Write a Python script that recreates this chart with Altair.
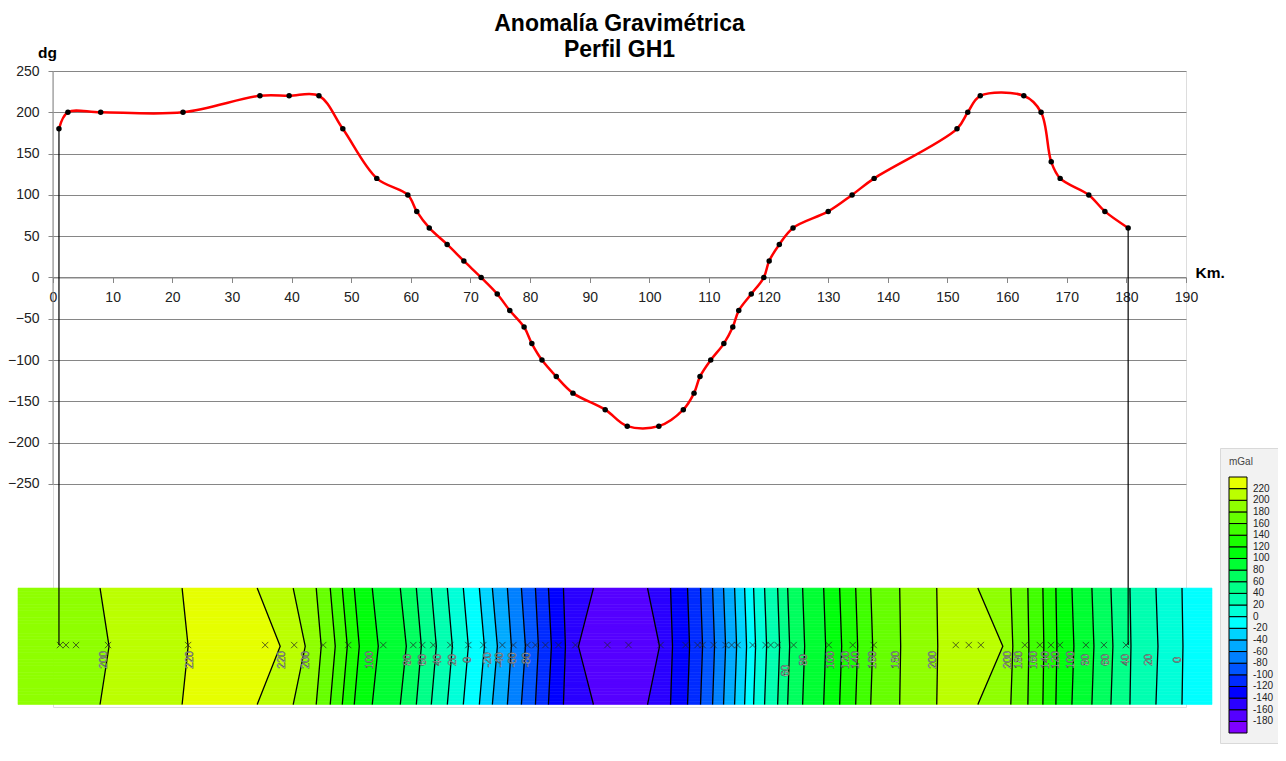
import altair as alt
import pandas as pd

# ---------------- profile (km, mGal) ----------------
prof_km = [1.0, 2.5, 8.0, 21.8, 34.7, 39.6, 44.6, 48.6, 54.3, 59.5, 61.0, 63.1, 66.1, 68.9,
           71.8, 74.5, 76.6, 79.0, 80.3, 82.0, 84.4, 87.2, 92.6, 96.3, 101.6, 105.7, 107.5,
           108.5, 110.3, 112.5, 114.0, 115.0, 117.1, 119.2, 120.1, 121.8, 124.1, 130.0, 134.0,
           137.7, 151.6, 153.4, 155.5, 162.8, 165.7, 167.4, 168.9, 173.7, 176.4, 180.3]
prof_val = [180, 200, 200, 200, 220, 220, 220, 180, 120, 100, 80, 60, 40, 20,
            0, -20, -40, -60, -80, -100, -120, -140, -160, -180, -180, -160, -140,
            -120, -100, -80, -60, -40, -20, 0, 20, 40, 60, 80, 100,
            120, 180, 200, 220, 220, 200, 140, 120, 100, 80, 60]

# ---------------- contour strip ----------------
line_level = [200, 220, 220, 200, 180, 160, 140, 120, 100, 80, 60, 40, 20, 0, -20, -40, -60, -80,
              -100, -120, -140, -160, -160, -140, -120, -100, -80, -60, -40, -20, 0, 20, 40, 60,
              80, 100, 120, 140, 160, 180, 200, 200, 180, 160, 140, 120, 100, 80, 60, 40, 20, 0]
line_km_top = [7.89, 21.65, 34.24, 40.28, 44.14, 46.49, 48.51, 50.52, 53.54, 58.24, 60.93, 63.44,
               66.13, 68.81, 71.50, 73.68, 76.20, 78.55, 80.90, 83.08, 85.60, 90.63, 99.70, 103.56,
               106.41, 108.59, 110.61, 112.45, 114.30, 115.98, 117.49, 119.33, 121.52, 123.20,
               125.71, 129.24, 131.92, 134.61, 137.13, 141.99, 148.20, 155.09, 160.62, 163.48,
               166.00, 168.18, 170.87, 174.22, 177.41, 180.60, 184.96, 189.33]
line_km_mid = [9.40, 22.66, 38.10, 42.30, 44.98, 47.33, 49.35, 51.36, 54.55, 59.25, 61.77, 64.28,
               66.97, 69.65, 72.34, 74.52, 76.87, 79.22, 81.40, 83.58, 85.93, 88.12, 101.71, 103.89,
               106.75, 108.93, 110.94, 112.79, 114.64, 116.31, 117.82, 119.67, 121.85, 123.53,
               126.05, 129.57, 132.26, 134.94, 137.46, 142.15, 148.37, 159.28, 160.96, 163.65,
               166.16, 168.35, 171.20, 174.56, 177.74, 180.77, 185.30, 189.49]
band_val = [190, 210, 230, 210, 190, 170, 150, 130, 110, 90, 70, 50, 30, 10, -10, -30, -50, -70,
            -90, -110, -130, -150, -170, -150, -130, -110, -90, -70, -50, -30, -10, 10, 30, 50,
            70, 90, 110, 130, 150, 170, 190, 210, 190, 170, 150, 130, 110, 90, 70, 50, 30, 10, -10]
strip_km = [-5.87, 194.36]
strip_val = [-376, -517]
marker_val = -445

marker_km = [1.17, 2.18, 3.86, 9.23, 22.66, 35.58, 40.45, 45.32, 49.51, 55.39, 60.42, 61.93,
             63.78, 66.63, 69.65, 72.17, 75.36, 77.21, 79.56, 80.90, 82.58, 84.76, 87.61, 92.98,
             96.51, 101.88, 106.08, 108.09, 108.93, 110.78, 112.79, 113.80, 114.80, 117.32,
             119.50, 120.34, 121.52, 124.20, 130.08, 134.11, 137.63, 151.39, 153.57, 155.59,
             162.97, 165.49, 167.34, 168.85, 173.21, 176.23, 179.93]

label_km = [8.56, 22.99, 38.44, 42.46, 53.21, 59.58, 62.10, 64.62, 67.14, 69.65, 73.01, 75.03,
            77.21, 79.56, 122.86, 125.88, 130.41, 132.93, 134.61, 137.46, 141.32, 147.53, 160.12,
            161.97, 164.48, 166.50, 168.18, 170.70, 173.21, 176.57, 179.93, 183.79, 188.65]
label_txt = ["200", "220", "220", "200", "100", "80", "60", "40", "20", "0", "-20", "-40",
             "-60", "-80", "60", "80", "100", "120", "140", "160", "180", "200", "200",
             "180", "160", "140", "120", "100", "80", "60", "40", "20", "0"]
label_val = [-463] * 14 + [-476] + [-463] * 18

# ---------------- colour classes ----------------
levels = list(range(-180, 221, 20))
colors = ["#7f00ff", "#5500ff", "#2a00ff", "#0000ff", "#002bff", "#0055ff", "#0080ff",
          "#00aaff", "#00d4ff", "#00ffff", "#00ffd8", "#00ffb0", "#00ff88", "#00ff5e",
          "#00ff33", "#00ff0c", "#1aff00", "#40ff00", "#66ff00", "#8fff00", "#bbff00", "#e6ff00"]

# ---------------- build tables ----------------
n_rows = 36
s_top, s_bot = strip_val
s_mid = (s_top + s_bot) / 2
half = (s_top - s_bot) / 2
hrow = (s_top - s_bot) / n_rows
cells = []
for i in range(n_rows):
    y1 = s_top - i * hrow
    y2 = y1 - hrow
    d = abs((y1 + y2) / 2 - s_mid) / half
    xs = [strip_km[0]] + [m + (t - m) * d for t, m in zip(line_km_top, line_km_mid)] + [strip_km[1]]
    for k, v in enumerate(band_val):
        cells.append({"km": xs[k], "km2": xs[k + 1], "val": y1, "val2": y2, "v": v})
cells = pd.DataFrame(cells)

cl = []
for j, (t, m) in enumerate(zip(line_km_top, line_km_mid)):
    for o, (x, y) in enumerate([(t, s_top), (m, s_mid), (t, s_bot)]):
        cl.append({"km": x, "val": y, "id": j, "o": o, "lev": line_level[j]})
cl = pd.DataFrame(cl)

prof = pd.DataFrame({"km": prof_km, "val": prof_val})
marks = pd.DataFrame({"km": marker_km, "val": [marker_val] * len(marker_km)})
labs = pd.DataFrame({"km": label_km, "val": label_val, "t": label_txt})
conn = pd.DataFrame({"km": [prof_km[0], prof_km[-1]], "val": [prof_val[0], prof_val[-1]],
                     "val2": [marker_val, marker_val]})
yaxis_line = pd.DataFrame({"km": [0], "val": [-250], "val2": [250]})

GRID = "#868686"
FONT = "Liberation Sans"
W, H = 1133, 636
xscale = alt.Scale(domain=[0, 190], nice=False, zero=False)
yscale = alt.Scale(domain=[-520, 250], nice=False, zero=False)
y0 = H * 250 / 770

xaxis = alt.Axis(values=list(range(0, 191, 10)), grid=False, domainColor=GRID, tickColor=GRID,
                 tickSize=5, labelFontSize=14, labelFont=FONT, labelColor="#222", labelPadding=8,
                 labelFlush=False, offset=-(H - y0), title="Km.", titleFont=FONT,
                 titleFontSize=15.5, titleFontWeight="bold", titleColor="black", titleAlign="left",
                 titleBaseline="middle", titleX=1142, titleY=-5)
yaxis = alt.Axis(values=list(range(-250, 251, 50)), grid=True, gridColor=GRID, gridWidth=1,
                 domain=False, tickColor=GRID, tickSize=5, labelFontSize=14, labelFont=FONT,
                 labelColor="#222", labelPadding=9, title="dg", titleAngle=0, titleX=-6,
                 titleY=-19, titleAlign="center", titleBaseline="middle", titleFont=FONT,
                 titleFontSize=15.5, titleFontWeight="bold", titleColor="black")


def X(f="km"):
    return alt.X(f"{f}:Q", scale=xscale, axis=xaxis)


def Y(f="val"):
    return alt.Y(f"{f}:Q", scale=yscale, axis=yaxis)


cscale = alt.Scale(type="threshold", domain=levels, range=colors)

strip = alt.Chart(cells).mark_rect(strokeWidth=0.6).encode(
    x=X(), x2="km2", y=Y(), y2="val2",
    color=alt.Color("v:Q", scale=cscale, legend=alt.Legend(
        title="mGal", orient="none", legendX=1167, legendY=377, direction="vertical",
        type="gradient", gradientLength=256, gradientThickness=18, gradientStrokeColor="black",
        gradientStrokeWidth=1, labelFontSize=10, labelFont=FONT, labelColor="#222",
        labelOverlap=False, labelOffset=6, titleFontSize=10, titleFont=FONT,
        titleFontWeight="normal", titleColor="#444", titlePadding=10, fillColor="#f2f2f2",
        strokeColor="#d9d9d9", padding=9)),
    stroke=alt.Stroke("v:Q", scale=cscale, legend=None),
)

contours = alt.Chart(cl).mark_line(color="black", strokeWidth=1.3).encode(
    x=X(), y=Y(), detail="id:N", order="o:Q")

xmarks = alt.Chart(marks).mark_point(shape="M-1,-1L1,1M-1,1L1,-1", size=40, filled=False,
                                     color="#222", strokeWidth=1).encode(x=X(), y=Y())

clabels = alt.Chart(labs).mark_text(angle=270, fontSize=10.5, font=FONT, color="white",
                                    stroke="#333", strokeWidth=0.45, align="center",
                                    baseline="middle").encode(x=X(), y=Y(), text="t:N")

axis_line = alt.Chart(yaxis_line).mark_rule(color=GRID, strokeWidth=1).encode(
    x=X(), y=Y(), y2="val2")

connectors = alt.Chart(conn).mark_rule(color="black", strokeWidth=1.2).encode(
    x=X(), y=Y(), y2="val2")

line = alt.Chart(prof).mark_line(color="#ff0000", strokeWidth=2.5,
                                 interpolate="catmull-rom").encode(x=X(), y=Y())
pts = alt.Chart(prof).mark_circle(color="black", size=30, opacity=1).encode(x=X(), y=Y())

chart = alt.layer(strip, contours, xmarks, clabels, axis_line, connectors, line, pts).properties(
    width=W, height=H,
    title=alt.TitleParams(text=["Anomalía Gravimétrica", "Perfil GH1"], fontSize=23,
                          font=FONT, fontWeight="bold", color="black", anchor="middle",
                          lineHeight=26, offset=10, dy=27),
    autosize=alt.AutoSizeParams(type="none"),
    padding={"left": 45, "top": 63, "right": 92, "bottom": 38},
).configure_view(stroke=None).configure(background="white")

chart.save("out.html", embed_options={"renderer": "svg", "actions": False})
